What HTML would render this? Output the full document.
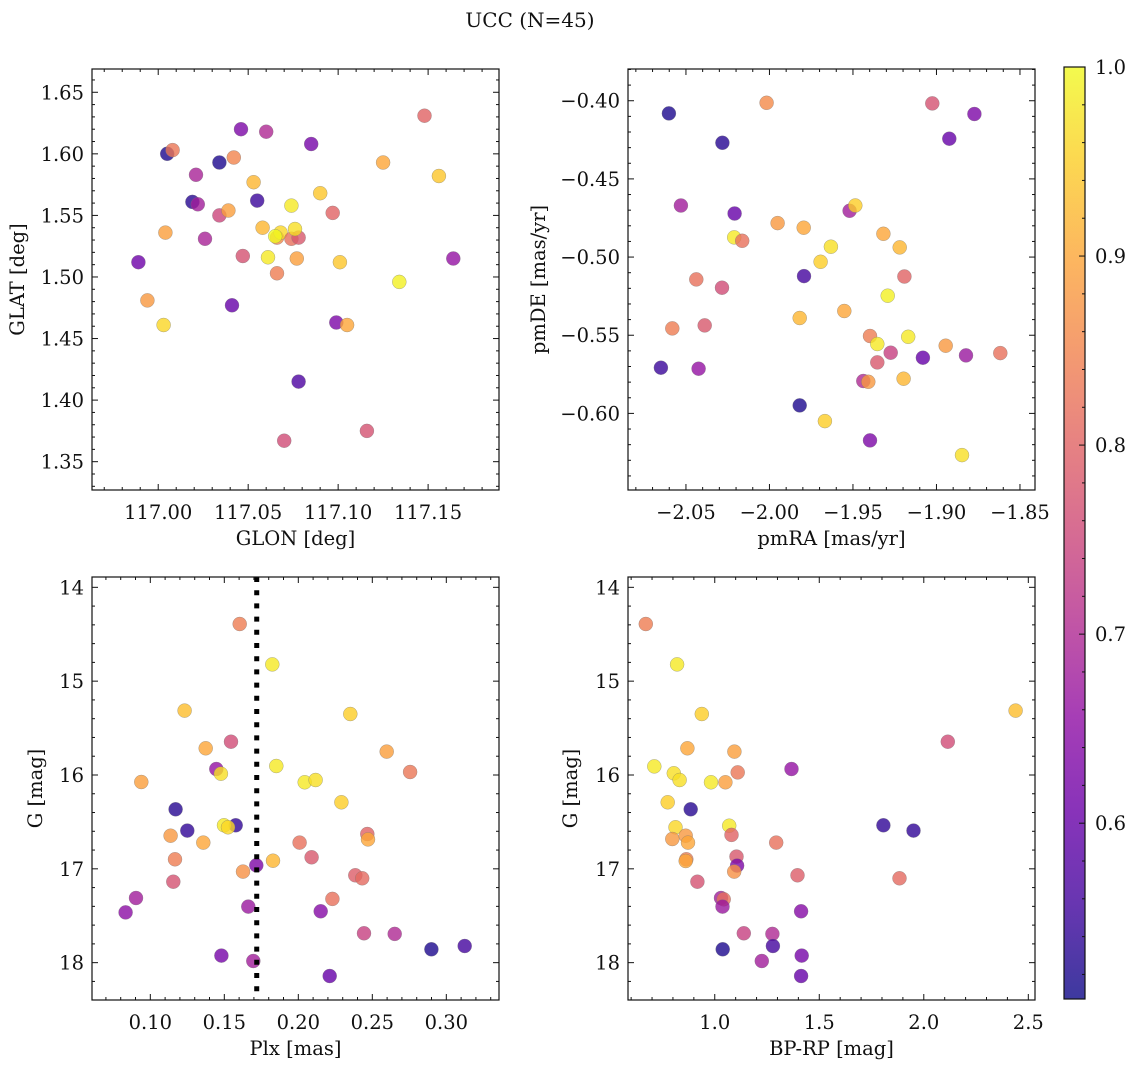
<!DOCTYPE html>
<html><head><meta charset="utf-8"><title>UCC (N=45)</title>
<style>
html,body{margin:0;padding:0;background:#fff;}
svg{display:block;}
text{font-family:"DejaVu Serif","Liberation Serif",serif;fill:#111;}
</style></head>
<body>
<svg id="fig" width="1136" height="1067" viewBox="0 0 1136 1067" xmlns="http://www.w3.org/2000/svg">
<text x="530" y="27" font-size="20" text-anchor="middle">UCC (N=45)</text>
</svg>
<script>
// ---- Panel 1: GLON vs GLAT ----
const p1Glon=[117.148,117.046,117.060,117.085,117.005,117.008,117.034,117.042,117.125,117.021,117.053,117.156,117.090,117.019,117.022,117.055,117.074,117.034,117.039,117.097,117.004,117.058,117.026,117.066,117.068,117.065,117.074,117.078,117.076,116.989,117.047,117.061,117.077,117.101,117.164,117.066,117.134,116.994,117.041,117.003,117.099,117.105,117.078,117.116,117.070];
const p1Glat=[1.631,1.620,1.618,1.608,1.600,1.603,1.593,1.597,1.593,1.583,1.577,1.582,1.568,1.561,1.559,1.562,1.558,1.550,1.554,1.552,1.536,1.540,1.531,1.532,1.536,1.533,1.531,1.532,1.539,1.512,1.517,1.516,1.515,1.512,1.515,1.503,1.496,1.481,1.477,1.461,1.463,1.461,1.415,1.375,1.367];
const p1Prob=[0.80,0.63,0.70,0.62,0.52,0.83,0.52,0.85,0.90,0.69,0.92,0.94,0.94,0.53,0.68,0.55,0.98,0.75,0.89,0.80,0.89,0.92,0.69,0.86,0.96,1.00,0.82,0.78,0.97,0.61,0.77,0.98,0.89,0.94,0.66,0.84,0.99,0.88,0.60,0.96,0.63,0.90,0.57,0.77,0.76];
// ---- Panel 2: pmRA vs pmDE ----
const p2PmRA=[-2.0602,-2.0017,-2.0282,-1.9025,-1.8773,-1.8923,-2.0530,-2.0209,-1.9520,-1.9486,-1.9951,-1.9795,-2.0211,-2.0163,-1.9318,-1.9632,-1.9220,-1.9694,-1.9793,-1.9192,-2.0438,-2.0284,-1.9292,-1.9552,-1.9819,-2.0582,-2.0388,-1.9398,-1.9169,-1.9354,-1.8945,-1.9274,-1.8823,-1.8618,-1.9081,-1.9354,-2.0650,-2.0424,-1.9438,-1.9408,-1.9197,-1.9819,-1.9668,-1.9398,-1.8847];
const p2PmDE=[-0.4081,-0.4013,-0.4269,-0.4017,-0.4085,-0.4243,-0.4670,-0.4721,-0.4704,-0.4670,-0.4783,-0.4812,-0.4874,-0.4896,-0.4851,-0.4934,-0.4938,-0.5030,-0.5122,-0.5124,-0.5143,-0.5196,-0.5247,-0.5345,-0.5390,-0.5456,-0.5437,-0.5505,-0.5510,-0.5556,-0.5567,-0.5612,-0.5629,-0.5614,-0.5644,-0.5674,-0.5708,-0.5714,-0.5793,-0.5798,-0.5778,-0.5949,-0.6049,-0.6173,-0.6267];
const p2Prob=[0.52,0.86,0.53,0.77,0.63,0.60,0.68,0.60,0.68,0.95,0.88,0.90,0.98,0.82,0.90,0.97,0.92,0.95,0.56,0.80,0.82,0.76,0.99,0.90,0.92,0.84,0.78,0.84,0.98,0.98,0.88,0.74,0.67,0.82,0.60,0.78,0.55,0.66,0.70,0.88,0.92,0.52,0.95,0.63,0.97];
// ---- Panel 3: Plx vs G ----
const p3Plx=[0.1604,0.1824,0.1232,0.2351,0.1545,0.1374,0.2597,0.2755,0.1446,0.1477,0.0939,0.1851,0.2043,0.2117,0.2291,0.1171,0.1250,0.1577,0.1498,0.1525,0.1137,0.1358,0.2009,0.2466,0.2471,0.1167,0.2090,0.1829,0.1716,0.1626,0.1155,0.2385,0.2432,0.0903,0.0833,0.2230,0.1662,0.2151,0.2444,0.2651,0.2899,0.3124,0.1480,0.1696,0.2212];
const p3G=[14.391,14.821,15.314,15.350,15.645,15.716,15.751,15.968,15.936,15.986,16.075,15.904,16.078,16.053,16.291,16.366,16.593,16.536,16.536,16.558,16.647,16.721,16.721,16.629,16.686,16.899,16.877,16.913,16.963,17.030,17.137,17.069,17.101,17.311,17.464,17.321,17.403,17.453,17.687,17.694,17.858,17.822,17.925,17.982,18.142];
const p3Prob=[0.84,0.98,0.93,0.95,0.76,0.90,0.89,0.83,0.66,0.97,0.89,0.98,0.98,0.97,0.95,0.53,0.54,0.54,0.98,0.96,0.88,0.90,0.82,0.80,0.90,0.84,0.78,0.92,0.63,0.87,0.77,0.79,0.81,0.68,0.65,0.82,0.67,0.64,0.74,0.70,0.52,0.56,0.62,0.68,0.60];
const p3PlxLine=[0.1719];
// ---- Panel 4: BP-RP vs G ----
const p4BpRp=[0.670,0.820,0.938,2.439,2.115,0.869,1.094,1.110,1.367,0.711,0.804,0.832,0.982,1.051,0.775,0.885,1.069,1.080,0.812,0.797,0.861,0.872,1.294,1.807,1.951,1.104,0.864,0.861,1.107,1.093,0.917,1.396,1.884,1.030,1.043,1.037,1.413,1.139,1.276,1.038,1.278,1.416,1.225,1.413];
const p4G=[14.391,14.821,15.350,15.314,15.645,15.716,15.751,15.972,15.936,15.908,15.982,16.053,16.078,16.078,16.291,16.366,16.540,16.639,16.558,16.682,16.647,16.721,16.721,16.536,16.593,16.870,16.899,16.917,16.966,17.030,17.137,17.069,17.101,17.311,17.325,17.403,17.453,17.687,17.694,17.858,17.822,17.925,17.982,18.142];
const p4Prob=[0.84,0.98,0.95,0.93,0.76,0.90,0.89,0.83,0.66,0.98,0.97,0.97,0.98,0.89,0.95,0.53,0.98,0.80,0.96,0.88,0.88,0.90,0.82,0.54,0.54,0.78,0.84,0.90,0.63,0.87,0.77,0.79,0.81,0.68,0.82,0.67,0.64,0.74,0.70,0.52,0.56,0.62,0.68,0.60];
// ---- Tick labels ----
const p1XTicks=[117.00,117.05,117.10,117.15];
const p1YTicks=[1.35,1.40,1.45,1.50,1.55,1.60,1.65];
const p2XTicks=[-2.05,-2.00,-1.95,-1.90,-1.85];
const p2YTicks=[-0.60,-0.55,-0.50,-0.45,-0.40];
const p3XTicks=[0.10,0.15,0.20,0.25,0.30];
const gTicks=[14,15,16,17,18];
const p4XTicks=[1.0,1.5,2.0,2.5];
const cbTicks=[0.6,0.7,0.8,0.9,1.0];
const cbMin=0.507, cbMax=1.0;

const NS='http://www.w3.org/2000/svg';
const svg=document.getElementById('fig');
const FS=19.5;
const plasma=['#0d0887','#41049d','#6a00a8','#8f0da4','#b12a90','#cc4778','#e16462','#f2844b','#fca636','#fcce25','#f0f921'];
function hex(h){return [parseInt(h.substr(1,2),16),parseInt(h.substr(3,2),16),parseInt(h.substr(5,2),16)];}
function cmap(v){
  let t=(v-cbMin)/(cbMax-cbMin);t=Math.max(0,Math.min(1,t));
  const f=t*10,i=Math.min(9,Math.floor(f)),r=f-i;
  const a=hex(plasma[i]),b=hex(plasma[i+1]);
  return 'rgb('+a.map((c,k)=>Math.round(c+(b[k]-c)*r)).join(',')+')';
}
function mk(tag,attrs,parent){const e=document.createElementNS(NS,tag);for(const k in attrs)e.setAttribute(k,attrs[k]);(parent||svg).appendChild(e);return e;}
function fmt(v,d){const s=Math.abs(v).toFixed(d);return (v<0?'\u2212':'')+s;}

function panel(cfg){
  const g=mk('g',{});
  
  
  const {x0,x1,y0,y1}=cfg.box;
  const sx=v=>x0+(v-cfg.xr[0])/(cfg.xr[1]-cfg.xr[0])*(x1-x0);
  const sy=v=>y0+(v-cfg.yr[0])/(cfg.yr[1]-cfg.yr[0])*(y1-y0);
  const pg=mk('g',{},g);
  
  
  for(let i=0;i<cfg.xs.length;i++){
    const c=mk('circle',{cx:sx(cfg.xs[i]).toFixed(1),cy:sy(cfg.ys[i]).toFixed(1),r:7,fill:cmap(cfg.cs[i]),'fill-opacity':0.8,stroke:'#777','stroke-opacity':0.6,'stroke-width':0.5},pg);
    
    
  }
  if(cfg.vline){
    const l=mk('line',{x1:sx(cfg.vline[0]),x2:sx(cfg.vline[0]),y1:y0,y2:y1,stroke:'#000','stroke-width':5,'stroke-dasharray':'5 8.2'},g);
    
    
  }
  const fr=mk('rect',{x:x0,y:Math.min(y0,y1),width:x1-x0,height:Math.abs(y1-y0),fill:'none',stroke:'#111','stroke-width':1.2},g);
  
  
  const top=Math.min(y0,y1),bot=Math.max(y0,y1);
  const tk=mk('g',{stroke:'#111','stroke-width':1},g);
  const xt=cfg.xt, xs=(xt[1]-xt[0])/5;
  for(let v=xt[0]-20*xs;v<=cfg.xr[1]+1e-9;v+=xs){
    if(v<cfg.xr[0]-1e-9)continue;
    const k=Math.round((v-xt[0])/xs);const maj=((k%5)+5)%5===0;const L=maj?6:3;const X=sx(v);
    mk('line',{x1:X,x2:X,y1:bot,y2:bot-L},tk);mk('line',{x1:X,x2:X,y1:top,y2:top+L},tk);
  }
  const yt=cfg.yt, ys=(yt[1]-yt[0])/5;
  const ylo=Math.min(cfg.yr[0],cfg.yr[1]),yhi=Math.max(cfg.yr[0],cfg.yr[1]);
  for(let v=yt[0]-20*ys;v<=yhi+1e-9;v+=ys){
    if(v<ylo-1e-9)continue;
    const k=Math.round((v-yt[0])/ys);const maj=((k%5)+5)%5===0;const L=maj?6:3;const Y=sy(v);
    mk('line',{x1:x0,x2:x0+L,y1:Y,y2:Y},tk);mk('line',{x1:x1,x2:x1-L,y1:Y,y2:Y},tk);
  }
  xt.forEach(v=>{const t=mk('text',{x:sx(v),y:bot+29,'font-size':FS,'text-anchor':'middle'},g);t.textContent=fmt(v,cfg.xd);
    });
  yt.forEach(v=>{const t=mk('text',{x:x0-8,y:sy(v)+7,'font-size':FS,'text-anchor':'end'},g);t.textContent=fmt(v,cfg.yd);
    });
  const xl=mk('text',{x:(x0+x1)/2,y:bot+55,'font-size':FS,'text-anchor':'middle'},g);xl.textContent=cfg.xlabel;
  
  const ylx=cfg.ylx, ylyy=(top+bot)/2;
  const yl=mk('text',{x:ylx,y:ylyy,'font-size':FS,'text-anchor':'middle',transform:'rotate(-90 '+ylx+' '+ylyy+')'},g);yl.textContent=cfg.ylabel;
  
}

panel({name:'glon-glat-panel',box:{x0:92,x1:499,y0:490,y1:69},xr:[116.9632,117.1894],yr:[1.327,1.6689],xs:p1Glon,ys:p1Glat,cs:p1Prob,xt:p1XTicks,yt:p1YTicks,xd:2,yd:2,xlabel:'GLON [deg]',ylabel:'GLAT [deg]',ylx:24});
panel({name:'pm-panel',box:{x0:628,x1:1035,y0:490,y1:69},xr:[-2.0847,-1.841],yr:[-0.649,-0.3797],xs:p2PmRA,ys:p2PmDE,cs:p2Prob,xt:p2XTicks,yt:p2YTicks,xd:2,yd:2,xlabel:'pmRA [mas/yr]',ylabel:'pmDE [mas/yr]',ylx:545});
panel({name:'plx-g-panel',box:{x0:92,x1:499,y0:577,y1:1000},xr:[0.0606,0.3356],yr:[13.89,18.398],xs:p3Plx,ys:p3G,cs:p3Prob,xt:p3XTicks,yt:gTicks,xd:2,yd:0,xlabel:'Plx [mas]',ylabel:'G [mag]',ylx:42,vline:p3PlxLine});
panel({name:'cmd-panel',box:{x0:628,x1:1035,y0:577,y1:1000},xr:[0.585,2.532],yr:[13.89,18.398],xs:p4BpRp,ys:p4G,cs:p4Prob,xt:p4XTicks,yt:gTicks,xd:1,yd:0,xlabel:'BP-RP [mag]',ylabel:'G [mag]',ylx:577});

// colorbar with gradient
const cb=mk('g',{});


const cx0=1064,cx1=1085,cy0=67,cy1=999;
const cyv=v=>cy1-(v-cbMin)/(cbMax-cbMin)*(cy1-cy0);
const defs=mk('defs',{});
const grad=mk('linearGradient',{id:'cbgrad',x1:0,y1:1,x2:0,y2:0},defs);
for(let i=0;i<=20;i++){
  const v=cbMin+(cbMax-cbMin)*i/20;
  mk('stop',{offset:(i/20),'stop-color':cmap(v)},grad);
}
mk('rect',{x:cx0,y:cy0,width:cx1-cx0,height:cy1-cy0,fill:'url(#cbgrad)','fill-opacity':0.8},cb);
mk('rect',{x:cx0,y:cy0,width:cx1-cx0,height:cy1-cy0,fill:'none',stroke:'#111','stroke-width':1.2},cb);
for(let k=0;k<=30;k++){
  const v=0.5+k*0.02; if(v<cbMin||v>cbMax+1e-9)continue;
  const maj=k%5===0;const Y=cyv(v);
  mk('line',{x1:cx1,x2:cx1-(maj?6:3),y1:Y,y2:Y,stroke:'#111','stroke-width':1},cb);
}
cbTicks.forEach(v=>{const t=mk('text',{x:cx1+10,y:cyv(v)+7,'font-size':FS},cb);t.textContent=v.toFixed(1);
  });
</script>
</body></html>
